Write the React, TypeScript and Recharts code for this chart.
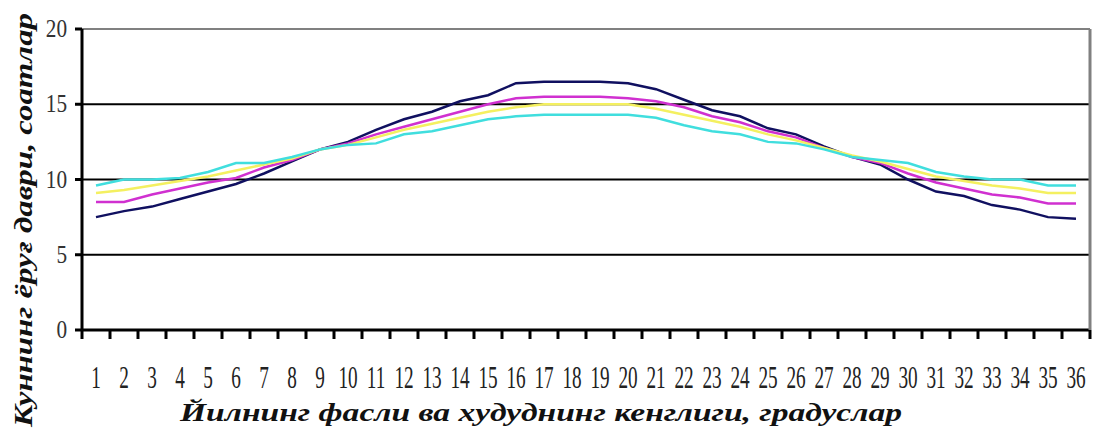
import { CartesianGrid, Line, LineChart, ReferenceLine, XAxis, YAxis } from "recharts";

const categories = Array.from({ length: 36 }, (_, i) => i + 1);
const boundaries = [...categories.map((c) => c - 0.5), categories.length + 0.5];

const navy = [
  7.5, 7.9, 8.2, 8.7, 9.2, 9.7, 10.4, 11.2, 12.0, 12.5, 13.3, 14.0, 14.5, 15.2, 15.6, 16.4, 16.5, 16.5,
  16.5, 16.4, 16.0, 15.3, 14.6, 14.2, 13.4, 13.0, 12.2, 11.5, 11.0, 10.0, 9.2, 8.9, 8.3, 8.0, 7.5, 7.4,
];
const magenta = [
  8.5, 8.5, 9.0, 9.4, 9.8, 10.1, 10.8, 11.3, 12.0, 12.4, 13.0, 13.5, 14.0, 14.5, 15.0, 15.4, 15.5, 15.5,
  15.5, 15.4, 15.2, 14.8, 14.2, 13.8, 13.2, 12.8, 12.1, 11.5, 11.1, 10.4, 9.8, 9.4, 9.0, 8.8, 8.4, 8.4,
];
const yellow = [
  9.1, 9.3, 9.6, 9.9, 10.2, 10.6, 11.0, 11.4, 12.0, 12.3, 12.8, 13.3, 13.7, 14.1, 14.5, 14.8, 15.0, 15.0,
  15.0, 15.0, 14.7, 14.3, 13.9, 13.5, 13.0, 12.6, 12.1, 11.6, 11.2, 10.7, 10.2, 9.9, 9.6, 9.4, 9.1, 9.1,
];
const cyan = [
  9.6, 10.0, 10.0, 10.1, 10.5, 11.1, 11.1, 11.5, 12.0, 12.3, 12.4, 13.0, 13.2, 13.6, 14.0, 14.2, 14.3, 14.3,
  14.3, 14.3, 14.1, 13.6, 13.2, 13.0, 12.5, 12.4, 12.0, 11.5, 11.3, 11.1, 10.5, 10.2, 10.0, 10.0, 9.6, 9.6,
];

const yTicks = [0, 5, 10, 15, 20];
const xTitle = "Йилнинг фасли ва худуднинг кенглиги, градуслар";
const yTitle = "Куннинг ёруғ даври, соатлар";

const data = categories.map((c, i) => ({
  cat: c,
  navy: navy[i],
  magenta: magenta[i],
  yellow: yellow[i],
  cyan: cyan[i],
}));

const W = 1093;
const H = 432;
const FONT = "'Liberation Serif', 'Times New Roman', serif";

function NoTick() {
  return <g />;
}

function XTick(props: any) {
  const { x, y, payload } = props;
  return (
    <text
      transform={`translate(${x},${y + 49}) scale(0.62,1)`}
      textAnchor="middle"
      fontFamily={FONT}
      fontSize={31}
      fill="#222"
    >
      {payload.value}
    </text>
  );
}

function YTick(props: any) {
  const { x, y, payload } = props;
  return (
    <text
      transform={`translate(${x - 6},${y + 8}) scale(0.85,1)`}
      textAnchor="end"
      fontFamily={FONT}
      fontSize={25}
      fill="#333"
    >
      {payload.value}
    </text>
  );
}

function XTitle() {
  return (
    <text
      x={541}
      y={421}
      textAnchor="middle"
      fontFamily={FONT}
      fontSize={26}
      fontWeight="bold"
      fontStyle="italic"
      textLength={722}
      lengthAdjust="spacingAndGlyphs"
      fill="#111"
    >
      {xTitle}
    </text>
  );
}

function YTitle() {
  return (
    <text
      transform="translate(32,220) rotate(-90)"
      textAnchor="middle"
      fontFamily={FONT}
      fontSize={26}
      fontWeight="bold"
      fontStyle="italic"
      textLength={414}
      lengthAdjust="spacingAndGlyphs"
      fill="#111"
    >
      {yTitle}
    </text>
  );
}

export default function App() {
  return (
    <div style={{ position: "absolute", left: 0, top: 0, width: W, height: H, background: "#fff" }}>
      <LineChart width={W} height={H} data={data} margin={{ top: 29, right: 0, bottom: 0, left: 0 }}>
        <CartesianGrid vertical={false} stroke="#000" strokeWidth={2} yAxisId="l" xAxisId="b" />
        <XAxis
          xAxisId="b"
          type="number"
          dataKey="cat"
          domain={[0.5, 36.5]}
          ticks={categories}
          interval={0}
          height={93}
          tickSize={0}
          tickMargin={0}
          tickLine={false}
          axisLine={false}
          tick={<XTick />}
          label={<XTitle />}
        />
        <XAxis
          xAxisId="a"
          type="number"
          dataKey="cat"
          domain={[0.5, 36.5]}
          ticks={boundaries}
          interval={0}
          height={9}
          tickSize={9}
          tickLine={{ stroke: "#000", strokeWidth: 3 }}
          axisLine={{ stroke: "#000", strokeWidth: 3 }}
          tick={<NoTick />}
        />
        <YAxis
          yAxisId="l"
          width={82}
          domain={[0, 20]}
          ticks={yTicks}
          tickSize={7}
          tickLine={{ stroke: "#000", strokeWidth: 3 }}
          axisLine={{ stroke: "#000", strokeWidth: 3 }}
          tick={<YTick />}
          label={<YTitle />}
        />
        <YAxis
          yAxisId="r"
          orientation="right"
          width={3}
          domain={[0, 20]}
          tick={false}
          tickLine={false}
          axisLine={{ stroke: "#808080", strokeWidth: 3 }}
        />
        <ReferenceLine yAxisId="l" xAxisId="b" y={20} stroke="#808080" strokeWidth={2} />
        <Line xAxisId="b" yAxisId="l" type="linear" dataKey="navy" stroke="#101060" strokeWidth={2.5} dot={false} isAnimationActive={false} />
        <Line xAxisId="b" yAxisId="l" type="linear" dataKey="magenta" stroke="#d030d0" strokeWidth={2.5} dot={false} isAnimationActive={false} />
        <Line xAxisId="b" yAxisId="l" type="linear" dataKey="yellow" stroke="#f4f060" strokeWidth={2.5} dot={false} isAnimationActive={false} />
        <Line xAxisId="b" yAxisId="l" type="linear" dataKey="cyan" stroke="#40dede" strokeWidth={2.5} dot={false} isAnimationActive={false} />
      </LineChart>
    </div>
  );
}
